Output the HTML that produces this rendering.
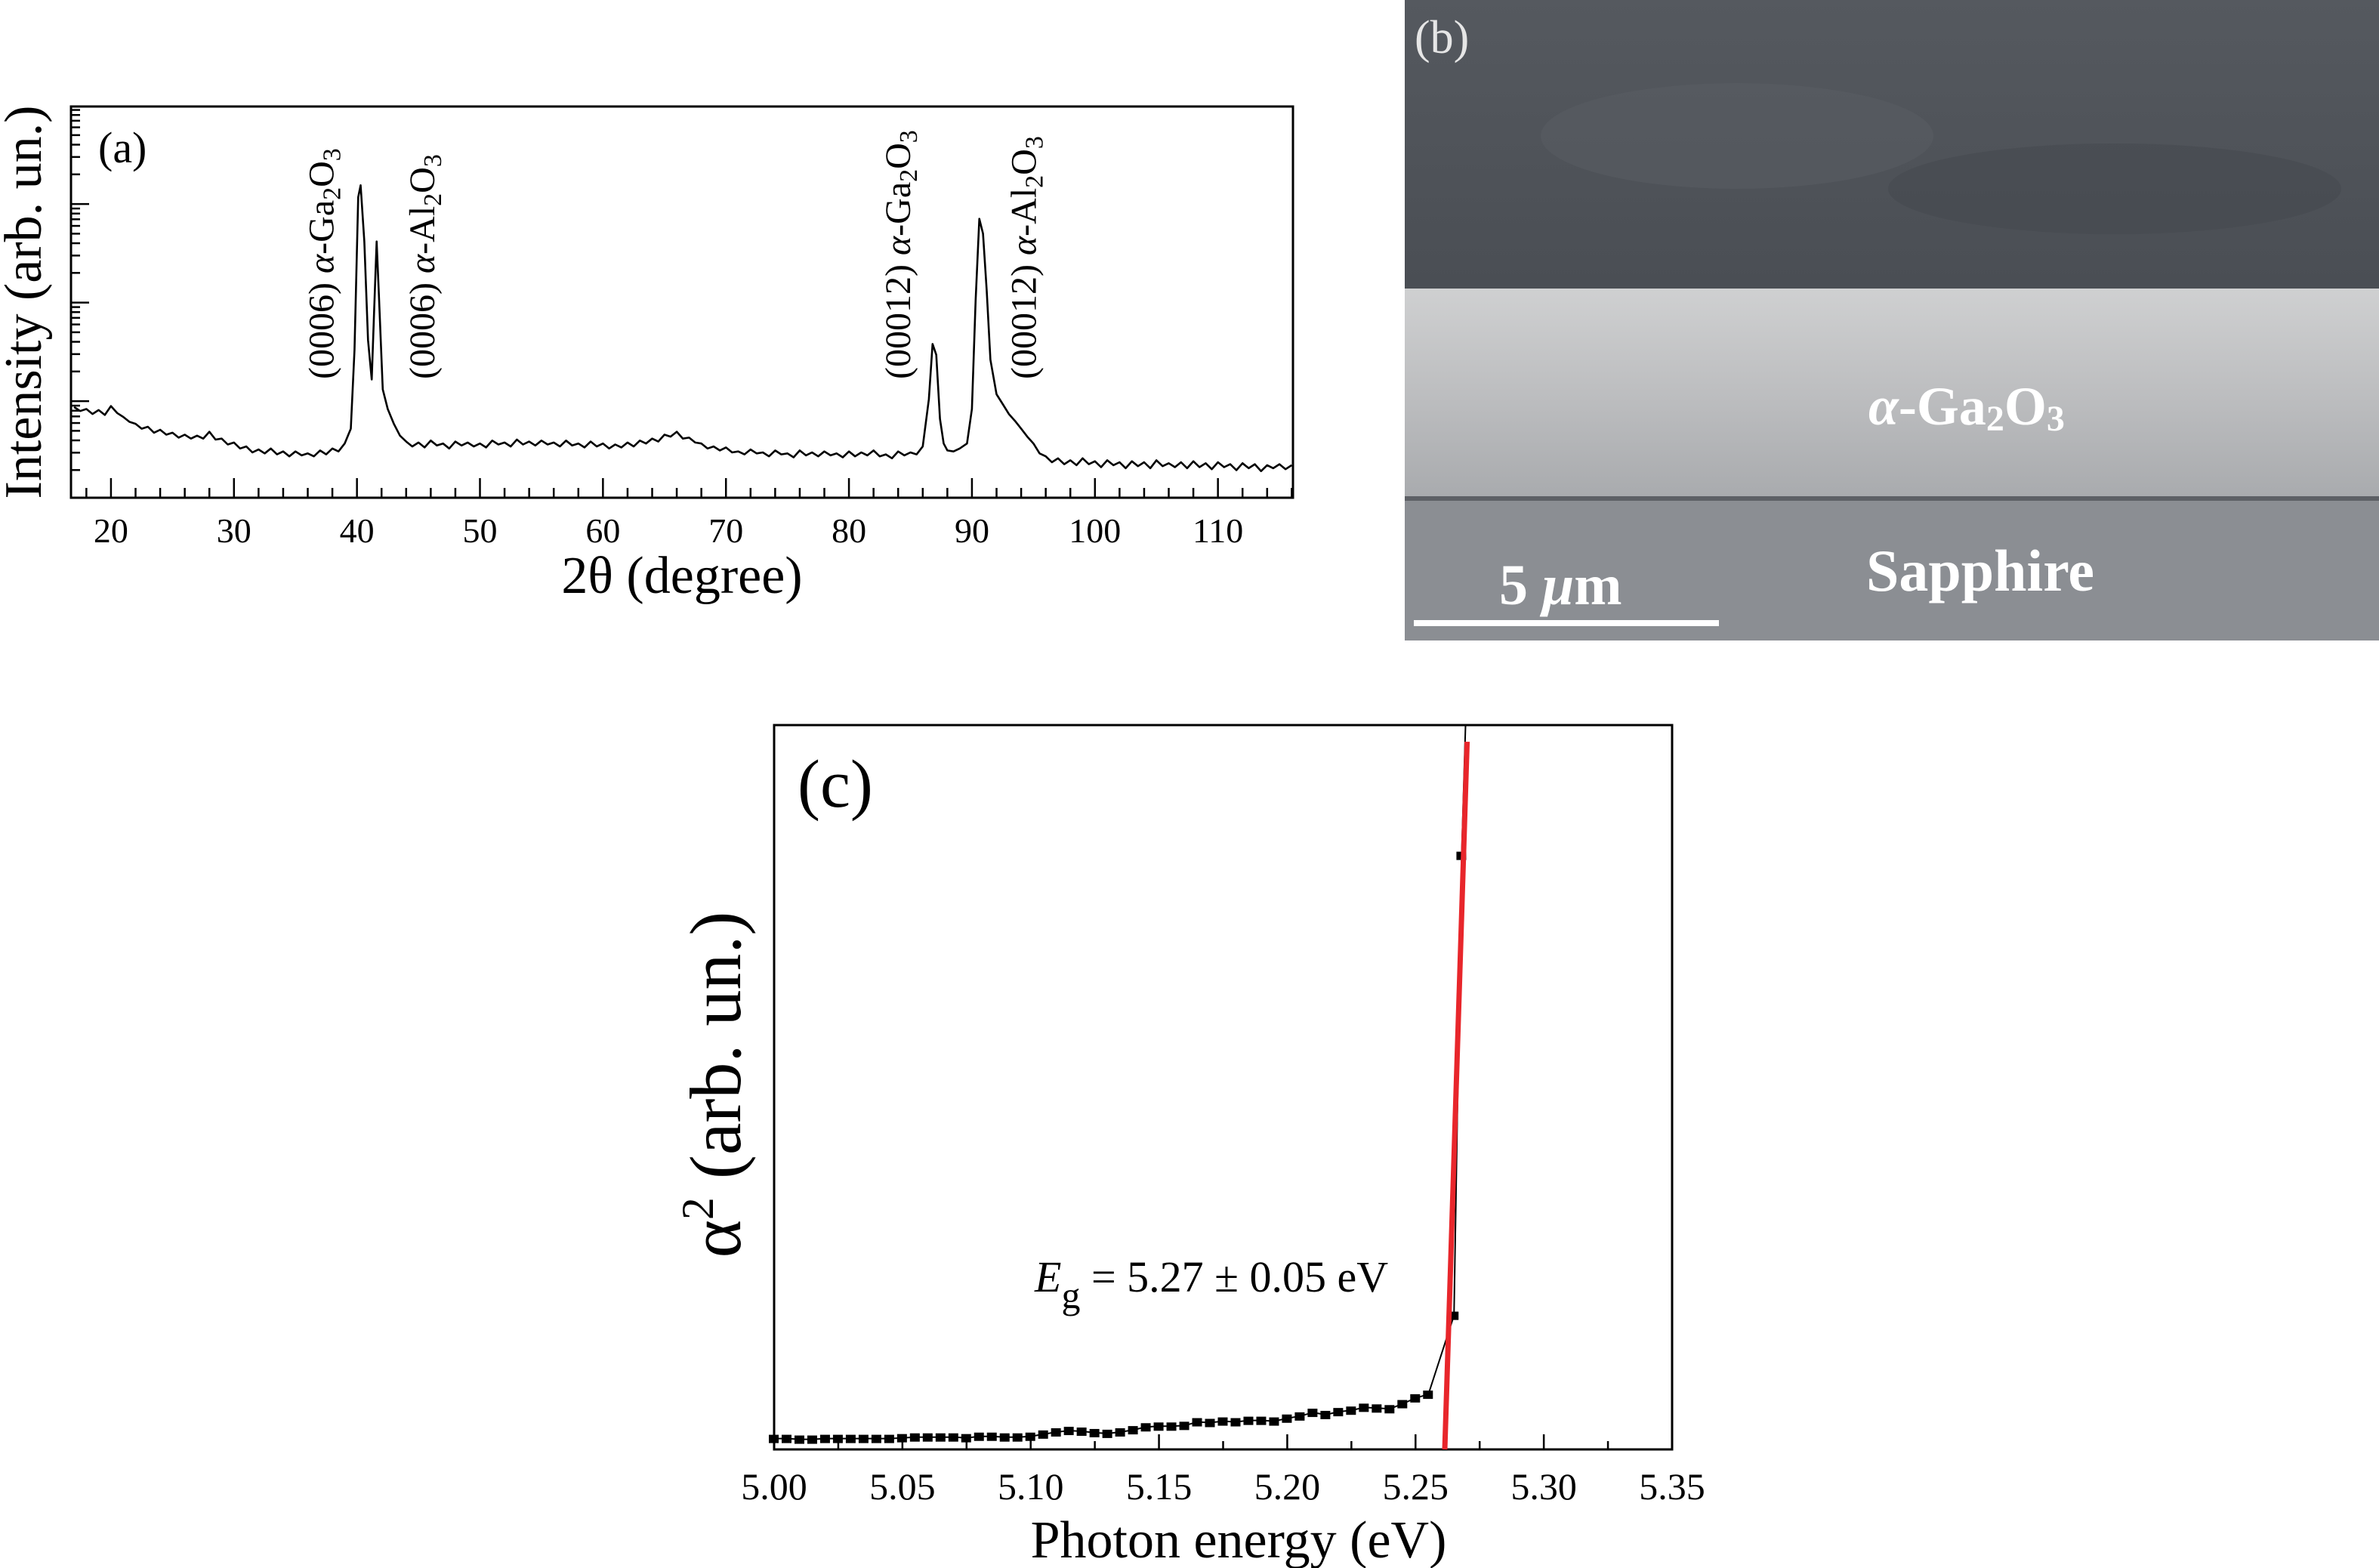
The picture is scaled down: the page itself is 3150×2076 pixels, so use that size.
<!DOCTYPE html>
<html><head><meta charset="utf-8"><style>
html,body{margin:0;padding:0;background:#fff}
svg{display:block}
text{font-family:"Liberation Serif",serif;fill:#000}
</style></head><body>
<svg id="fig" width="3150" height="2076" viewBox="0 0 3150 2076" xmlns="http://www.w3.org/2000/svg">
<defs>
<linearGradient id="film" x1="0" y1="0" x2="0" y2="1">
<stop offset="0" stop-color="#cfd0d1"/><stop offset="0.5" stop-color="#bdbec0"/><stop offset="1" stop-color="#a9abae"/></linearGradient>
<linearGradient id="top" x1="0" y1="0" x2="0" y2="1">
<stop offset="0" stop-color="#55595f"/><stop offset="1" stop-color="#4a4e54"/></linearGradient>
</defs>
<g id="panelA"></g>
<g id="panelB">
<rect x="1860" y="0" width="1290" height="382" fill="url(#top)"/>
<ellipse cx="2300" cy="180" rx="260" ry="70" fill="#5a5e64" opacity="0.5"/>
<ellipse cx="2800" cy="250" rx="300" ry="60" fill="#44484e" opacity="0.5"/>
<rect x="1860" y="382" width="1290" height="275" fill="url(#film)"/>
<rect x="1860" y="657" width="1290" height="6" fill="#5d6065"/>
<rect x="1860" y="663" width="1290" height="185" fill="#8b8e93"/>
<text x="1873" y="70" font-size="62" style="fill:#e6e6e6">(b)</text>
<text x="2474" y="562" font-size="72" font-weight="bold" style="fill:#fff"><tspan font-style="italic">α</tspan>-Ga<tspan font-size="48" dy="8">2</tspan><tspan dy="-8">O</tspan><tspan font-size="48" dy="8">3</tspan></text>
<text x="2471" y="782" font-size="78" font-weight="bold" style="fill:#fff">Sapphire</text>
<text x="1985" y="800" font-size="76" font-weight="bold" style="fill:#fff">5 <tspan font-style="italic">μ</tspan>m</text>
<rect x="1872" y="821" width="404" height="8" fill="#fff"/>
</g>
<g id="panelC"></g>
</svg>
<script>
const NS="http://www.w3.org/2000/svg";
function el(p,t,a){const e=document.createElementNS(NS,t);for(const k in a)e.setAttribute(k,a[k]);p.appendChild(e);return e;}

/* ---------- Panel (a) data ---------- */
const xrdAngles=[17,17.5,18,18.5,19,19.5,20,20.5,21,21.5,22,22.5,23,23.5,24,24.5,25,25.5,26,26.5,27,27.5,28,28.5,29,29.5,30,30.5,31,31.5,32,32.5,33,33.5,34,34.5,35,35.5,36,36.5,37,37.5,38,38.5,39,39.5,39.8,40.1,40.3,40.6,40.9,41.2,41.4,41.6,41.8,42.1,42.5,43,43.5,44,44.5,45,45.5,46,46.5,47,47.5,48,48.5,49,49.5,50,50.5,51,51.5,52,52.5,53,53.5,54,54.5,55,55.5,56,56.5,57,57.5,58,58.5,59,59.5,60,60.5,61,61.5,62,62.5,63,63.5,64,64.5,65,65.5,66,66.5,67,67.5,68,68.5,69,69.5,70,70.5,71,71.5,72,72.5,73,73.5,74,74.5,75,75.5,76,76.5,77,77.5,78,78.5,79,79.5,80,80.5,81,81.5,82,82.5,83,83.5,84,84.5,85,85.5,86,86.5,86.8,87.1,87.4,87.7,88,88.5,89,89.6,90,90.3,90.6,90.9,91.2,91.5,92,92.5,93,93.5,94,94.5,95,95.5,96,96.5,97,97.5,98,98.5,99,99.5,100,100.5,101,101.5,102,102.5,103,103.5,104,104.5,105,105.5,106,106.5,107,107.5,108,108.5,109,109.5,110,110.5,111,111.5,112,112.5,113,113.5,114,114.5,115,115.5,116,116.5,117];
const xrdLogI=[0.92,0.88,0.90,0.85,0.89,0.84,0.93,0.86,0.82,0.77,0.75,0.70,0.72,0.66,0.69,0.64,0.66,0.61,0.64,0.60,0.63,0.60,0.67,0.59,0.60,0.54,0.56,0.50,0.52,0.46,0.49,0.45,0.50,0.44,0.47,0.42,0.47,0.43,0.45,0.42,0.48,0.44,0.50,0.47,0.55,0.70,1.5,3.05,3.17,2.6,1.6,1.2,1.9,2.6,2.0,1.1,0.9,0.75,0.63,0.57,0.52,0.56,0.51,0.58,0.53,0.55,0.50,0.57,0.53,0.56,0.52,0.55,0.51,0.58,0.54,0.56,0.52,0.59,0.54,0.57,0.53,0.58,0.54,0.56,0.52,0.58,0.53,0.55,0.51,0.57,0.52,0.55,0.50,0.54,0.51,0.56,0.52,0.58,0.55,0.60,0.57,0.64,0.62,0.67,0.60,0.61,0.56,0.55,0.50,0.52,0.48,0.51,0.46,0.47,0.44,0.49,0.45,0.46,0.42,0.48,0.44,0.45,0.41,0.48,0.43,0.46,0.42,0.47,0.43,0.45,0.41,0.47,0.42,0.46,0.43,0.48,0.42,0.44,0.40,0.47,0.43,0.46,0.44,0.52,1.0,1.56,1.45,0.8,0.55,0.48,0.47,0.50,0.55,0.9,2.0,2.83,2.68,2.1,1.4,1.05,0.95,0.85,0.78,0.70,0.62,0.55,0.45,0.42,0.36,0.40,0.34,0.38,0.33,0.40,0.34,0.37,0.31,0.38,0.33,0.36,0.30,0.37,0.32,0.36,0.30,0.38,0.32,0.35,0.31,0.36,0.30,0.37,0.31,0.35,0.29,0.36,0.31,0.34,0.28,0.35,0.30,0.34,0.27,0.33,0.30,0.34,0.29,0.33];
const xrdTicks=[20,30,40,50,60,70,80,90,100,110];
const xrdPeakLabels=[["(0006) ","α","-Ga","2","O","3"],["(0006) ","α","-Al","2","O","3"],["(00012) ","α","-Ga","2","O","3"],["(00012) ","α","-Al","2","O","3"]];
const xrdPeakPos=[37.1,45.3,84.0,94.2];

const A={l:94,r:1712,t:141,b:659,x0:16.75,x1:116.1};
const ax=v=>A.l+(v-A.x0)/(A.x1-A.x0)*(A.r-A.l);
const ay=v=>A.b-v*130.5;
const ga=document.getElementById('panelA');
let f=el(ga,'rect',{x:A.l,y:A.t,width:A.r-A.l,height:A.b-A.t,fill:'none',stroke:'#000','stroke-width':3});


for(let d=18;d<=116;d+=2){const maj=d%10===0;const t=el(ga,'line',{x1:ax(d),x2:ax(d),y1:A.b,y2:A.b-(maj?26:13),stroke:'#000','stroke-width':2.5});

}
xrdTicks.forEach(v=>{const t=el(ga,'text',{x:ax(v),y:718,'font-size':46,'text-anchor':'middle'});t.textContent=v;

});
for(let dec=0;dec<4;dec++){for(let m=1;m<=9;m++){const v=dec+Math.log10(m)-0.02;const y=ay(v);if(y<A.t||y>A.b)continue;
const t=el(ga,'line',{x1:A.l,x2:A.l+(m===1?24:12),y1:y,y2:y,stroke:'#000','stroke-width':2.5});

}}
let p='';xrdAngles.forEach((a,i)=>{p+=(i?'L':'M')+ax(a).toFixed(1)+' '+ay(xrdLogI[i]).toFixed(1);});
const line=el(ga,'path',{d:p,fill:'none',stroke:'#000','stroke-width':2.6,'stroke-linejoin':'round'});


xrdPeakLabels.forEach((lab,i)=>{const x=ax(xrdPeakPos[i]);const t=el(ga,'text',{x:0,y:0,'font-size':48,transform:`translate(${x+16},502) rotate(-90)`});
t.innerHTML=`${lab[0]}<tspan font-style="italic">${lab[1]}</tspan>${lab[2]}<tspan font-size="34" dy="9">${lab[3]}</tspan><tspan dy="-9">${lab[4]}</tspan><tspan font-size="34" dy="9">${lab[5]}</tspan>`;

});
let tt=el(ga,'text',{x:130,y:215,'font-size':58});tt.textContent='(a)';


tt=el(ga,'text',{x:903,y:785,'font-size':70,'text-anchor':'middle'});tt.textContent='2θ (degree)';


tt=el(ga,'text',{x:0,y:0,'font-size':70,'text-anchor':'middle',transform:'translate(54,400) rotate(-90)'});tt.textContent='Intensity (arb. un.)';



/* ---------- Panel (c) data ---------- */
const energies=[5.000,5.005,5.010,5.015,5.020,5.025,5.030,5.035,5.040,5.045,5.050,5.055,5.060,5.065,5.070,5.075,5.080,5.085,5.090,5.095,5.100,5.105,5.110,5.115,5.120,5.125,5.130,5.135,5.140,5.145,5.150,5.155,5.160,5.165,5.170,5.175,5.180,5.185,5.190,5.195,5.200,5.205,5.210,5.215,5.220,5.225,5.230,5.235,5.240,5.245,5.250,5.255,5.265,5.268];
const alpha2=[1.5,1.5,1.4,1.4,1.5,1.5,1.5,1.5,1.5,1.5,1.6,1.7,1.7,1.7,1.7,1.6,1.8,1.8,1.7,1.7,1.8,2.1,2.4,2.6,2.5,2.3,2.2,2.4,2.7,3.1,3.2,3.2,3.3,3.8,3.7,3.9,3.8,4.0,4.0,3.9,4.3,4.6,5.1,4.8,5.2,5.4,5.8,5.7,5.6,6.3,7.1,7.6,18.5,82];
const fitE=[5.2614,5.2701];
const fitA=[0,97.7];
const xTicksC=[5.00,5.05,5.10,5.15,5.20,5.25,5.30,5.35];

const C={l:1025,r:2214,t:960,b:1919,x0:5.0,x1:5.35};
const cx=v=>C.l+(v-C.x0)/(C.x1-C.x0)*(C.r-C.l);
const cy=v=>C.b-v/100*(C.b-C.t);
const gc=document.getElementById('panelC');
f=el(gc,'rect',{x:C.l,y:C.t,width:C.r-C.l,height:C.b-C.t,fill:'none',stroke:'#000','stroke-width':3});


for(let i=0;i<=14;i++){const v=5+i*0.025;const maj=i%2===0;const t=el(gc,'line',{x1:cx(v),x2:cx(v),y1:C.b,y2:C.b-(maj?20:11),stroke:'#000','stroke-width':2.5});

}
xTicksC.forEach(v=>{const t=el(gc,'text',{x:cx(v),y:1985,'font-size':50,'text-anchor':'middle'});t.textContent=v.toFixed(2);

});
let pc='';energies.forEach((e,i)=>{pc+=(i?'L':'M')+cx(e).toFixed(1)+' '+Math.max(C.t,cy(alpha2[i])).toFixed(1);});
pc+='L'+cx(5.2695).toFixed(1)+' '+C.t;
const lc=el(gc,'path',{d:pc,fill:'none',stroke:'#000','stroke-width':2});


energies.forEach((e,i)=>{const y=cy(alpha2[i]);if(y<C.t)return;const s=el(gc,'rect',{x:cx(e)-7,y:y-5,width:13,height:11,fill:'#000'});

});
const fl=el(gc,'line',{x1:cx(fitE[0]),y1:cy(fitA[0]),x2:cx(fitE[1]),y2:cy(fitA[1]),stroke:'#e8262b','stroke-width':7});


tt=el(gc,'text',{x:1056,y:1068,'font-size':90});tt.textContent='(c)';


tt=el(gc,'text',{x:1370,y:1710,'font-size':58});tt.innerHTML='<tspan font-style="italic">E</tspan><tspan font-size="50" dy="22">g</tspan><tspan dy="-22"> = 5.27 ± 0.05 eV</tspan>';


tt=el(gc,'text',{x:1640,y:2062,'font-size':70,'text-anchor':'middle'});tt.textContent='Photon energy (eV)';


tt=el(gc,'text',{x:0,y:0,'font-size':96,'text-anchor':'middle',transform:'translate(980,1436) rotate(-90)'});tt.innerHTML='α<tspan font-size="60" dy="-36">2</tspan><tspan dy="36"> (arb. un.)</tspan>';


</script>
</body></html>
